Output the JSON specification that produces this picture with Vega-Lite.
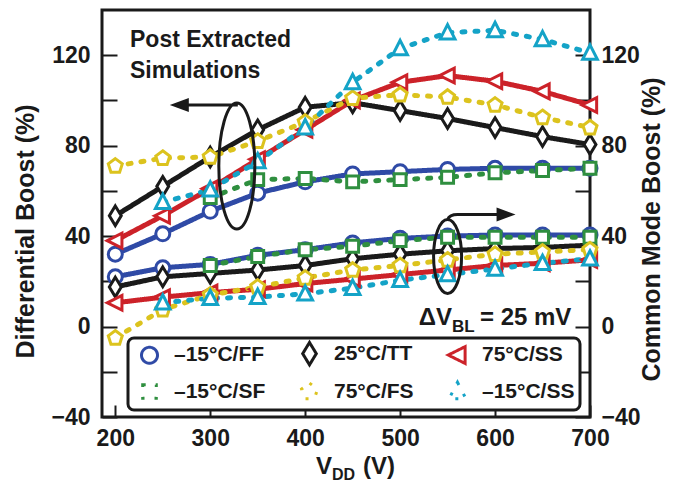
{
  "$schema": "https://vega.github.io/schema/vega-lite/v6.json",
  "width": 488,
  "height": 407,
  "autosize": "none",
  "padding": {"left": 102, "top": 10, "right": 86, "bottom": 68},
  "background": "white",
  "config": {
    "view": {"stroke": "#1a1a1a", "strokeWidth": 3},
    "axis": {
      "domain": false,
      "grid": false,
      "tickColor": "#1a1a1a",
      "tickWidth": 2,
      "labelFont": "Liberation Sans",
      "labelFontWeight": "bold",
      "labelFontSize": 23,
      "labelColor": "#1a1a1a",
      "labelOverlap": false,
      "labelFlush": false,
      "titleFont": "Liberation Sans",
      "titleFontWeight": "bold",
      "titleFontSize": 25,
      "titleColor": "#1a1a1a"
    },
    "legend": {
      "labelFont": "Liberation Sans",
      "labelFontWeight": "bold",
      "labelFontSize": 21,
      "labelColor": "#1a1a1a",
      "labelLimit": 0,
      "strokeWidth": 3
    },
    "text": {"color": "#1a1a1a"}
  },
  "data": {
    "values": [
      {"vdd": 200, "boost": 32, "corner": "–15°C/FF", "set": "differential"},
      {"vdd": 250, "boost": 41, "corner": "–15°C/FF", "set": "differential"},
      {"vdd": 300, "boost": 51, "corner": "–15°C/FF", "set": "differential"},
      {"vdd": 350, "boost": 59, "corner": "–15°C/FF", "set": "differential"},
      {"vdd": 400, "boost": 64, "corner": "–15°C/FF", "set": "differential"},
      {"vdd": 450, "boost": 67.5, "corner": "–15°C/FF", "set": "differential"},
      {"vdd": 500, "boost": 68.5, "corner": "–15°C/FF", "set": "differential"},
      {"vdd": 550, "boost": 69.5, "corner": "–15°C/FF", "set": "differential"},
      {"vdd": 600, "boost": 70, "corner": "–15°C/FF", "set": "differential"},
      {"vdd": 650, "boost": 70, "corner": "–15°C/FF", "set": "differential"},
      {"vdd": 700, "boost": 70, "corner": "–15°C/FF", "set": "differential"},
      {"vdd": 200, "boost": 22, "corner": "–15°C/FF", "set": "common"},
      {"vdd": 250, "boost": 26, "corner": "–15°C/FF", "set": "common"},
      {"vdd": 300, "boost": 27.5, "corner": "–15°C/FF", "set": "common"},
      {"vdd": 350, "boost": 31.5, "corner": "–15°C/FF", "set": "common"},
      {"vdd": 400, "boost": 34, "corner": "–15°C/FF", "set": "common"},
      {"vdd": 450, "boost": 37, "corner": "–15°C/FF", "set": "common"},
      {"vdd": 500, "boost": 39, "corner": "–15°C/FF", "set": "common"},
      {"vdd": 550, "boost": 40, "corner": "–15°C/FF", "set": "common"},
      {"vdd": 600, "boost": 40.5, "corner": "–15°C/FF", "set": "common"},
      {"vdd": 650, "boost": 40.5, "corner": "–15°C/FF", "set": "common"},
      {"vdd": 700, "boost": 40.5, "corner": "–15°C/FF", "set": "common"},

      {"vdd": 200, "boost": 49, "corner": "25°C/TT", "set": "differential"},
      {"vdd": 250, "boost": 62, "corner": "25°C/TT", "set": "differential"},
      {"vdd": 300, "boost": 75, "corner": "25°C/TT", "set": "differential"},
      {"vdd": 350, "boost": 87, "corner": "25°C/TT", "set": "differential"},
      {"vdd": 400, "boost": 97, "corner": "25°C/TT", "set": "differential"},
      {"vdd": 450, "boost": 99, "corner": "25°C/TT", "set": "differential"},
      {"vdd": 500, "boost": 95.5, "corner": "25°C/TT", "set": "differential"},
      {"vdd": 550, "boost": 92, "corner": "25°C/TT", "set": "differential"},
      {"vdd": 600, "boost": 88, "corner": "25°C/TT", "set": "differential"},
      {"vdd": 650, "boost": 84, "corner": "25°C/TT", "set": "differential"},
      {"vdd": 700, "boost": 80.5, "corner": "25°C/TT", "set": "differential"},
      {"vdd": 200, "boost": 17.5, "corner": "25°C/TT", "set": "common"},
      {"vdd": 250, "boost": 22, "corner": "25°C/TT", "set": "common"},
      {"vdd": 300, "boost": 23.5, "corner": "25°C/TT", "set": "common"},
      {"vdd": 350, "boost": 25, "corner": "25°C/TT", "set": "common"},
      {"vdd": 400, "boost": 27, "corner": "25°C/TT", "set": "common"},
      {"vdd": 450, "boost": 30, "corner": "25°C/TT", "set": "common"},
      {"vdd": 500, "boost": 32, "corner": "25°C/TT", "set": "common"},
      {"vdd": 550, "boost": 33.5, "corner": "25°C/TT", "set": "common"},
      {"vdd": 600, "boost": 34.5, "corner": "25°C/TT", "set": "common"},
      {"vdd": 650, "boost": 35, "corner": "25°C/TT", "set": "common"},
      {"vdd": 700, "boost": 36, "corner": "25°C/TT", "set": "common"},

      {"vdd": 200, "boost": 38, "corner": "75°C/SS", "set": "differential"},
      {"vdd": 250, "boost": 49, "corner": "75°C/SS", "set": "differential"},
      {"vdd": 300, "boost": 61, "corner": "75°C/SS", "set": "differential"},
      {"vdd": 350, "boost": 74, "corner": "75°C/SS", "set": "differential"},
      {"vdd": 400, "boost": 87, "corner": "75°C/SS", "set": "differential"},
      {"vdd": 450, "boost": 100, "corner": "75°C/SS", "set": "differential"},
      {"vdd": 500, "boost": 108, "corner": "75°C/SS", "set": "differential"},
      {"vdd": 550, "boost": 111, "corner": "75°C/SS", "set": "differential"},
      {"vdd": 600, "boost": 108.5, "corner": "75°C/SS", "set": "differential"},
      {"vdd": 650, "boost": 104, "corner": "75°C/SS", "set": "differential"},
      {"vdd": 700, "boost": 98, "corner": "75°C/SS", "set": "differential"},
      {"vdd": 200, "boost": 10.5, "corner": "75°C/SS", "set": "common"},
      {"vdd": 250, "boost": 13, "corner": "75°C/SS", "set": "common"},
      {"vdd": 300, "boost": 15, "corner": "75°C/SS", "set": "common"},
      {"vdd": 350, "boost": 16.5, "corner": "75°C/SS", "set": "common"},
      {"vdd": 400, "boost": 19, "corner": "75°C/SS", "set": "common"},
      {"vdd": 450, "boost": 21, "corner": "75°C/SS", "set": "common"},
      {"vdd": 500, "boost": 23, "corner": "75°C/SS", "set": "common"},
      {"vdd": 550, "boost": 25, "corner": "75°C/SS", "set": "common"},
      {"vdd": 600, "boost": 27, "corner": "75°C/SS", "set": "common"},
      {"vdd": 650, "boost": 28, "corner": "75°C/SS", "set": "common"},
      {"vdd": 700, "boost": 29.5, "corner": "75°C/SS", "set": "common"},

      {"vdd": 300, "boost": 57, "corner": "–15°C/SF", "set": "differential"},
      {"vdd": 350, "boost": 65, "corner": "–15°C/SF", "set": "differential"},
      {"vdd": 400, "boost": 65.5, "corner": "–15°C/SF", "set": "differential"},
      {"vdd": 450, "boost": 64, "corner": "–15°C/SF", "set": "differential"},
      {"vdd": 500, "boost": 65, "corner": "–15°C/SF", "set": "differential"},
      {"vdd": 550, "boost": 66, "corner": "–15°C/SF", "set": "differential"},
      {"vdd": 600, "boost": 68, "corner": "–15°C/SF", "set": "differential"},
      {"vdd": 650, "boost": 69, "corner": "–15°C/SF", "set": "differential"},
      {"vdd": 700, "boost": 70, "corner": "–15°C/SF", "set": "differential"},
      {"vdd": 300, "boost": 27, "corner": "–15°C/SF", "set": "common"},
      {"vdd": 350, "boost": 31, "corner": "–15°C/SF", "set": "common"},
      {"vdd": 400, "boost": 34, "corner": "–15°C/SF", "set": "common"},
      {"vdd": 450, "boost": 35.5, "corner": "–15°C/SF", "set": "common"},
      {"vdd": 500, "boost": 38, "corner": "–15°C/SF", "set": "common"},
      {"vdd": 550, "boost": 39.5, "corner": "–15°C/SF", "set": "common"},
      {"vdd": 600, "boost": 39.5, "corner": "–15°C/SF", "set": "common"},
      {"vdd": 650, "boost": 39.5, "corner": "–15°C/SF", "set": "common"},
      {"vdd": 700, "boost": 39.5, "corner": "–15°C/SF", "set": "common"},

      {"vdd": 200, "boost": 71, "corner": "75°C/FS", "set": "differential"},
      {"vdd": 250, "boost": 74.5, "corner": "75°C/FS", "set": "differential"},
      {"vdd": 300, "boost": 75, "corner": "75°C/FS", "set": "differential"},
      {"vdd": 350, "boost": 82, "corner": "75°C/FS", "set": "differential"},
      {"vdd": 400, "boost": 90.5, "corner": "75°C/FS", "set": "differential"},
      {"vdd": 450, "boost": 101, "corner": "75°C/FS", "set": "differential"},
      {"vdd": 500, "boost": 102.5, "corner": "75°C/FS", "set": "differential"},
      {"vdd": 550, "boost": 101.5, "corner": "75°C/FS", "set": "differential"},
      {"vdd": 600, "boost": 98, "corner": "75°C/FS", "set": "differential"},
      {"vdd": 650, "boost": 92.5, "corner": "75°C/FS", "set": "differential"},
      {"vdd": 700, "boost": 88, "corner": "75°C/FS", "set": "differential"},
      {"vdd": 200, "boost": -5, "corner": "75°C/FS", "set": "common"},
      {"vdd": 250, "boost": 7.5, "corner": "75°C/FS", "set": "common"},
      {"vdd": 300, "boost": 14, "corner": "75°C/FS", "set": "common"},
      {"vdd": 350, "boost": 17.5, "corner": "75°C/FS", "set": "common"},
      {"vdd": 400, "boost": 21.5, "corner": "75°C/FS", "set": "common"},
      {"vdd": 450, "boost": 25, "corner": "75°C/FS", "set": "common"},
      {"vdd": 500, "boost": 27, "corner": "75°C/FS", "set": "common"},
      {"vdd": 550, "boost": 29.5, "corner": "75°C/FS", "set": "common"},
      {"vdd": 600, "boost": 32, "corner": "75°C/FS", "set": "common"},
      {"vdd": 650, "boost": 33, "corner": "75°C/FS", "set": "common"},
      {"vdd": 700, "boost": 34, "corner": "75°C/FS", "set": "common"},

      {"vdd": 250, "boost": 55, "corner": "–15°C/SS", "set": "differential"},
      {"vdd": 300, "boost": 60.5, "corner": "–15°C/SS", "set": "differential"},
      {"vdd": 350, "boost": 73, "corner": "–15°C/SS", "set": "differential"},
      {"vdd": 400, "boost": 88, "corner": "–15°C/SS", "set": "differential"},
      {"vdd": 450, "boost": 108, "corner": "–15°C/SS", "set": "differential"},
      {"vdd": 500, "boost": 123, "corner": "–15°C/SS", "set": "differential"},
      {"vdd": 550, "boost": 130, "corner": "–15°C/SS", "set": "differential"},
      {"vdd": 600, "boost": 131, "corner": "–15°C/SS", "set": "differential"},
      {"vdd": 650, "boost": 127, "corner": "–15°C/SS", "set": "differential"},
      {"vdd": 700, "boost": 121, "corner": "–15°C/SS", "set": "differential"},
      {"vdd": 250, "boost": 10.5, "corner": "–15°C/SS", "set": "common"},
      {"vdd": 300, "boost": 12.5, "corner": "–15°C/SS", "set": "common"},
      {"vdd": 350, "boost": 13, "corner": "–15°C/SS", "set": "common"},
      {"vdd": 400, "boost": 14.5, "corner": "–15°C/SS", "set": "common"},
      {"vdd": 450, "boost": 17, "corner": "–15°C/SS", "set": "common"},
      {"vdd": 500, "boost": 20.5, "corner": "–15°C/SS", "set": "common"},
      {"vdd": 550, "boost": 23, "corner": "–15°C/SS", "set": "common"},
      {"vdd": 600, "boost": 25.5, "corner": "–15°C/SS", "set": "common"},
      {"vdd": 650, "boost": 28, "corner": "–15°C/SS", "set": "common"},
      {"vdd": 700, "boost": 30, "corner": "–15°C/SS", "set": "common"}
    ]
  },
  "layer": [
    {
      "mark": {"type": "line", "strokeWidth": 5, "strokeCap": "round", "strokeJoin": "round"},
      "encoding": {
        "x": {
          "field": "vdd", "type": "quantitative",
          "scale": {"domain": [186, 700], "nice": false, "zero": false},
          "axis": {"values": [200, 300, 400, 500, 600, 700], "tickSize": -12, "labelPadding": 40, "labelBaseline": "alphabetic", "title": null}
        },
        "y": {
          "field": "boost", "type": "quantitative",
          "scale": {"domain": [-40, 140], "nice": false, "zero": false},
          "axis": {
            "orient": "left",
            "values": [-40, -20, 0, 20, 40, 60, 80, 100, 120],
            "labelExpr": "datum.value % 40 === 0 ? replace(format(datum.value, 'd'), '-', '–') : ''",
            "tickSize": -15, "labelPadding": 27, "labelBaseline": "middle",
            "title": "Differential Boost (%)",
            "titleAngle": -90, "titleX": -69, "titleY": 221, "titleBaseline": "alphabetic", "titleAlign": "center"
          }
        },
        "stroke": {
          "field": "corner", "type": "nominal",
          "scale": {
            "domain": ["–15°C/FF", "25°C/TT", "75°C/SS", "–15°C/SF", "75°C/FS", "–15°C/SS"],
            "range": ["#2f4aa6", "#1a1a1a", "#cc2229", "#2f8f3f", "#dcc31e", "#14a3c7"]
          }
        },
        "strokeDash": {
          "field": "corner", "type": "nominal",
          "scale": {
            "domain": ["–15°C/FF", "25°C/TT", "75°C/SS", "–15°C/SF", "75°C/FS", "–15°C/SS"],
            "range": [[1, 0], [1, 0], [1, 0], [3, 10], [3, 10], [3, 10]]
          },
          "legend": null
        },
        "detail": {"field": "set"}
      }
    },
    {
      "mark": {"type": "point", "filled": true, "fill": "white", "strokeWidth": 3, "size": 196, "opacity": 1},
      "encoding": {
        "x": {"field": "vdd", "type": "quantitative", "scale": {"domain": [186, 700], "nice": false, "zero": false}},
        "y": {
          "field": "boost", "type": "quantitative",
          "scale": {"domain": [-40, 140], "nice": false, "zero": false},
          "axis": {
            "orient": "right",
            "values": [-40, -20, 0, 20, 40, 60, 80, 100, 120],
            "labelExpr": "datum.value % 40 === 0 ? replace(format(datum.value, 'd'), '-', '–') : ''",
            "tickSize": -15, "labelPadding": 26, "labelBaseline": "middle", "labelAlign": "left",
            "title": "Common Mode Boost (%)",
            "titleAngle": -90, "titleX": 69, "titleY": 219, "titleBaseline": "alphabetic", "titleAlign": "center"
          }
        },
        "stroke": {
          "field": "corner", "type": "nominal",
          "scale": {
            "domain": ["–15°C/FF", "25°C/TT", "75°C/SS", "–15°C/SF", "75°C/FS", "–15°C/SS"],
            "range": ["#2f4aa6", "#1a1a1a", "#cc2229", "#2f8f3f", "#dcc31e", "#14a3c7"]
          },
          "legend": {
            "title": null,
            "orient": "none",
            "legendX": 26,
            "legendY": 328,
            "columns": 3,
            "direction": "horizontal",
            "columnPadding": 27,
            "rowPadding": 5,
            "padding": 5,
            "cornerRadius": 6,
            "strokeColor": "#1a1a1a",
            "fillColor": "white",
            "symbolSize": 256,
            "symbolOffset": 6,
            "labelOffset": 14,
            "symbolStrokeWidth": 3,
            "symbolDash": [1, 0],
            "symbolFillColor": "white"
          }
        },
        "shape": {
          "field": "corner", "type": "nominal",
          "scale": {
            "domain": ["–15°C/FF", "25°C/TT", "75°C/SS", "–15°C/SF", "75°C/FS", "–15°C/SS"],
            "range": [
              "circle",
              "M0,-1.4L0.85,0L0,1.4L-0.85,0Z",
              "M-1.15,0L0.95,-1.05L0.95,1.05Z",
              "M-0.85,-0.85H0.85V0.85H-0.85Z",
              "M0,-1.05L1,-0.3L0.62,0.9L-0.62,0.9L-1,-0.3Z",
              "M0,-1.15L1.05,0.9L-1.05,0.9Z"
            ]
          },
          "legend": null
        }
      }
    },
    {
      "data": {"values": [{}]},
      "mark": {"type": "point", "shape": "M0,-63A18,63 0 1,1 0,63A18,63 0 1,1 0,-63M1,-61L-50,-61", "size": 4, "filled": false, "stroke": "#1a1a1a", "strokeWidth": 3, "opacity": 1},
      "encoding": {
        "x": {"datum": 328, "type": "quantitative", "scale": {"domain": [186, 700], "nice": false, "zero": false}},
        "y": {"datum": 71, "type": "quantitative", "scale": {"domain": [-40, 140], "nice": false, "zero": false}, "axis": null}
      }
    },
    {
      "data": {"values": [{}]},
      "mark": {"type": "point", "shape": "M-67,-61L-48,-68L-48,-54Z", "size": 4, "filled": true, "fill": "#1a1a1a", "strokeWidth": 0, "opacity": 1},
      "encoding": {
        "x": {"datum": 328, "type": "quantitative", "scale": {"domain": [186, 700], "nice": false, "zero": false}},
        "y": {"datum": 71, "type": "quantitative", "scale": {"domain": [-40, 140], "nice": false, "zero": false}, "axis": null}
      }
    },
    {
      "data": {"values": [{}]},
      "mark": {"type": "point", "shape": "M0,-37A14,37 0 1,1 0,37A14,37 0 1,1 0,-37M0,-37Q2,-42 10,-42H52", "size": 4, "filled": false, "stroke": "#1a1a1a", "strokeWidth": 3, "opacity": 1},
      "encoding": {
        "x": {"datum": 550, "type": "quantitative", "scale": {"domain": [186, 700], "nice": false, "zero": false}},
        "y": {"datum": 31, "type": "quantitative", "scale": {"domain": [-40, 140], "nice": false, "zero": false}, "axis": null}
      }
    },
    {
      "data": {"values": [{}]},
      "mark": {"type": "point", "shape": "M68,-42L49,-49L49,-35Z", "size": 4, "filled": true, "fill": "#1a1a1a", "strokeWidth": 0, "opacity": 1},
      "encoding": {
        "x": {"datum": 550, "type": "quantitative", "scale": {"domain": [186, 700], "nice": false, "zero": false}},
        "y": {"datum": 31, "type": "quantitative", "scale": {"domain": [-40, 140], "nice": false, "zero": false}, "axis": null}
      }
    },
    {
      "data": {"values": [{}]},
      "mark": {"type": "text", "text": ["Post Extracted", "Simulations"], "align": "left", "baseline": "alphabetic", "font": "Liberation Sans", "fontWeight": "bold", "fontSize": 23, "lineHeight": 31},
      "encoding": {
        "x": {"datum": 215.5, "type": "quantitative", "scale": {"domain": [186, 700], "nice": false, "zero": false}},
        "y": {"datum": 123.6, "type": "quantitative", "scale": {"domain": [-40, 140], "nice": false, "zero": false}, "axis": null}
      }
    },
    {
      "data": {"values": [{}]},
      "mark": {"type": "text", "text": "ΔV", "align": "right", "baseline": "alphabetic", "dy": -1.6, "font": "Liberation Sans", "fontWeight": "bold", "fontSize": 24},
      "encoding": {
        "x": {"datum": 554.6, "type": "quantitative", "scale": {"domain": [186, 700], "nice": false, "zero": false}},
        "y": {"datum": 0, "type": "quantitative", "scale": {"domain": [-40, 140], "nice": false, "zero": false}, "axis": null}
      }
    },
    {
      "data": {"values": [{}]},
      "mark": {"type": "text", "text": "BL", "align": "left", "baseline": "alphabetic", "dy": 5.7, "font": "Liberation Sans", "fontWeight": "bold", "fontSize": 17},
      "encoding": {
        "x": {"datum": 554.6, "type": "quantitative", "scale": {"domain": [186, 700], "nice": false, "zero": false}},
        "y": {"datum": 0, "type": "quantitative", "scale": {"domain": [-40, 140], "nice": false, "zero": false}, "axis": null}
      }
    },
    {
      "data": {"values": [{}]},
      "mark": {"type": "text", "text": "= 25 mV", "align": "left", "baseline": "alphabetic", "dx": 28, "dy": -1.6, "font": "Liberation Sans", "fontWeight": "bold", "fontSize": 24},
      "encoding": {
        "x": {"datum": 554.6, "type": "quantitative", "scale": {"domain": [186, 700], "nice": false, "zero": false}},
        "y": {"datum": 0, "type": "quantitative", "scale": {"domain": [-40, 140], "nice": false, "zero": false}, "axis": null}
      }
    },
    {
      "data": {"values": [{}]},
      "mark": {"type": "text", "text": "V", "align": "right", "baseline": "alphabetic", "dy": 57, "font": "Liberation Sans", "fontWeight": "bold", "fontSize": 24},
      "encoding": {
        "x": {"datum": 428.3, "type": "quantitative", "scale": {"domain": [186, 700], "nice": false, "zero": false}},
        "y": {"datum": -40, "type": "quantitative", "scale": {"domain": [-40, 140], "nice": false, "zero": false}, "axis": null}
      }
    },
    {
      "data": {"values": [{}]},
      "mark": {"type": "text", "text": "DD", "align": "left", "baseline": "alphabetic", "dy": 63, "font": "Liberation Sans", "fontWeight": "bold", "fontSize": 16},
      "encoding": {
        "x": {"datum": 428.3, "type": "quantitative", "scale": {"domain": [186, 700], "nice": false, "zero": false}},
        "y": {"datum": -40, "type": "quantitative", "scale": {"domain": [-40, 140], "nice": false, "zero": false}, "axis": null}
      }
    },
    {
      "data": {"values": [{}]},
      "mark": {"type": "text", "text": "(V)", "align": "left", "baseline": "alphabetic", "dx": 31, "dy": 57, "font": "Liberation Sans", "fontWeight": "bold", "fontSize": 24},
      "encoding": {
        "x": {"datum": 428.3, "type": "quantitative", "scale": {"domain": [186, 700], "nice": false, "zero": false}},
        "y": {"datum": -40, "type": "quantitative", "scale": {"domain": [-40, 140], "nice": false, "zero": false}, "axis": null}
      }
    }
  ],
  "resolve": {"axis": {"y": "independent"}}
}
